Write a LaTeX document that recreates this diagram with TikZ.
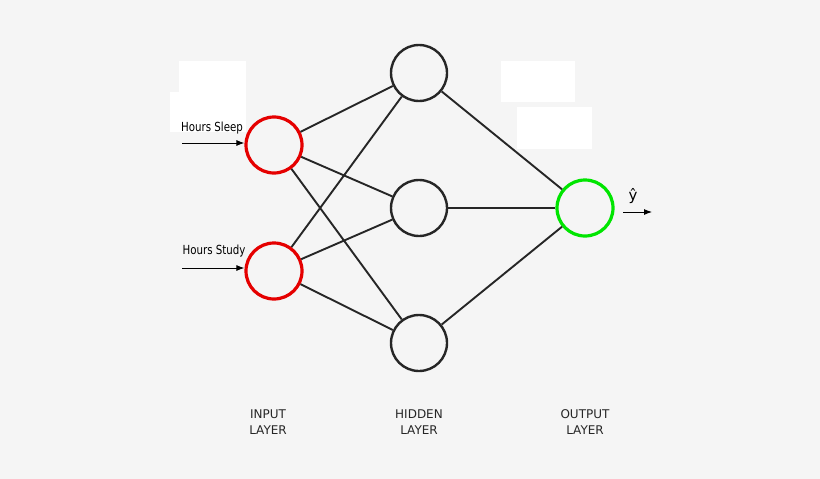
\documentclass[tikz,border=0pt]{standalone}
\usepackage{fontspec}
\setmainfont{DejaVu Sans}
\usetikzlibrary{arrows.meta}
\begin{document}
\begin{tikzpicture}[x=1pt,y=-1pt,
 neu/.style={circle,draw=black!85,line width=2.4pt,minimum size=56pt,inner sep=0pt},
 inp/.style={neu,draw=red!90!black,line width=3.2pt},
 outp/.style={neu,draw=green!90!black,line width=3.2pt},
 edge/.style={line width=1.9pt,black!85},
 arr/.style={-{Latex[length=8pt,width=6pt]},line width=0.9pt},
 wbox/.style={fill=white,draw=none},
 lbl/.style={font=\fontsize{12}{16}\selectfont,align=center,text=black!85},
 hl/.style={font=\fontsize{12.5}{14}\selectfont,inner sep=0pt}]
\fill[black!4] (0,0) rectangle (820,479);
\useasboundingbox (0,0) rectangle (820,479);
\fill[wbox] (179,61) rectangle (246,100);
\fill[wbox] (170,92) rectangle (246,132);
\fill[wbox] (501,61) rectangle (575,102);
\fill[wbox] (517,107) rectangle (592,149);
\node[inp] (i1) at (274,145) {};
\node[inp] (i2) at (274,271) {};
\node[neu] (h1) at (419,73) {};
\node[neu] (h2) at (419,208) {};
\node[neu] (h3) at (419,343) {};
\node[outp] (o) at (585,208) {};
\foreach \a in {i1,i2}\foreach \b in {h1,h2,h3}\draw[edge] (\a) -- (\b);
\foreach \b in {h1,h2,h3}\draw[edge] (\b) -- (o);
\coordinate (s1) at (182,143);\coordinate (s2) at (182,268);
\coordinate (e1) at (623,212);\coordinate (e2) at (652,212);
\draw[arr] (s1) -- (i1.west|-s1);
\draw[arr] (s2) -- (i2.west|-s2);
\draw[arr] (e1) -- (e2);
\node[hl,xscale=0.82] (t1) at (212,128) {Hours Sleep};
\node[hl,xscale=0.82] (t2) at (214,251) {Hours Study};
\node[font=\fontsize{15}{16}\selectfont,inner sep=0pt] (yh) at (633,196) {\^{y}};
\node[lbl] (l1) at (268,422) {INPUT\\LAYER};
\node[lbl] (l2) at (419,422) {HIDDEN\\LAYER};
\node[lbl] (l3) at (585,422) {OUTPUT\\LAYER};
\end{tikzpicture}
\end{document}
